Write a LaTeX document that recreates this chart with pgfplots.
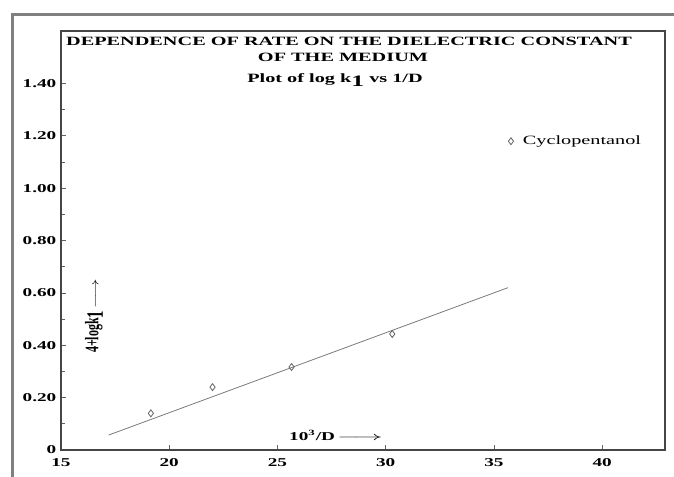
\documentclass[border=0pt]{standalone}
\usepackage{fontspec}
\setmainfont{Liberation Serif}
\usepackage{graphicx}
\usepackage{pgfplots}
\pgfplotsset{compat=1.18}
\newcommand\sx[1]{\scalebox{1.6}[1]{#1}}
\newcommand\tk[1]{\sx{\fontsize{9}{10}\selectfont\bfseries #1}}
\definecolor{framegray}{RGB}{128,128,128}
\definecolor{axgray}{RGB}{70,70,70}
\definecolor{dgray}{RGB}{100,100,100}
\begin{document}
\begin{tikzpicture}
\useasboundingbox (0,0) rectangle (505.5pt,357.75pt);
\fill[white] (0,0) rectangle (505.5pt,357.75pt);
\draw[framegray, line width=2.25pt] (9pt,-1.5pt) -- (9pt,346.5pt) -- (507pt,346.5pt);
\begin{axis}[
  at={(45.75pt,20.25pt)}, anchor=south west,
  scale only axis, width=453pt, height=314.25pt,
  xmin=15, xmax=42.9, ymin=0, ymax=1.6,
  xtick={15,20,25,30,35,40},
  xticklabels={\tk{15},\tk{20},\tk{25},\tk{30},\tk{35},\tk{40}},
  xticklabel style={yshift=-3pt},
  ytick={0,0.2,0.4,0.6,0.8,1.0,1.2,1.4},
  yticklabels={\tk{0},\tk{0.20},\tk{0.40},\tk{0.60},\tk{0.80},\tk{1.00},\tk{1.20},\tk{1.40}},
  minor y tick num=1,
  tick align=inside, xtick pos=left, ytick pos=left,
  major tick length=4pt, minor tick length=3pt,
  tick style={dgray, line width=0.5pt},
  axis line style={axgray, line width=0.9pt},
  legend style={at={(0.738,0.737)}, anchor=west, draw=none, fill=none,
    font=\fontsize{9.5}{11}\selectfont, inner sep=1pt},
  legend cell align=left,
]
\addplot[dgray!85, line width=0.6pt, forget plot] coordinates {(17.2,0.057) (35.65,0.62)};
\addplot[only marks, mark=diamond, mark size=2.6pt, dgray, mark options={line width=0.6pt}]
  coordinates {(19.15,0.14) (22.0,0.24) (25.65,0.317) (30.3,0.443)};
\addlegendentry{\hspace{5pt}\sx{Cyclopentanol}}
\end{axis}
\node[font=\fontsize{9.5}{11}\selectfont\bfseries] at (261.75pt,327pt) {\sx{DEPENDENCE OF RATE ON THE DIELECTRIC CONSTANT}};
\node[font=\fontsize{9.5}{11}\selectfont\bfseries] at (257.25pt,315pt) {\sx{OF THE MEDIUM}};
\node[font=\fontsize{9.5}{11}\selectfont\bfseries] at (251.25pt,297.75pt) {\sx{Plot of log k\raisebox{-0.6ex}{\fontsize{12}{12}\selectfont 1} vs 1/D}};
\node[font=\fontsize{9}{10}\selectfont\bfseries, rotate=90] at (70.5pt,120.75pt) {\scalebox{1}[1.6]{4+logk\raisebox{-0.5ex}{\fontsize{11}{11}\selectfont 1}}\,\scalebox{1.5}[1]{$\longrightarrow$}};
\node[font=\fontsize{9}{10}\selectfont\bfseries] at (252pt,31.5pt) {\sx{10\textsuperscript{3}/D}\,\scalebox{2.3}[1]{$\longrightarrow$}};
\end{tikzpicture}
\end{document}
